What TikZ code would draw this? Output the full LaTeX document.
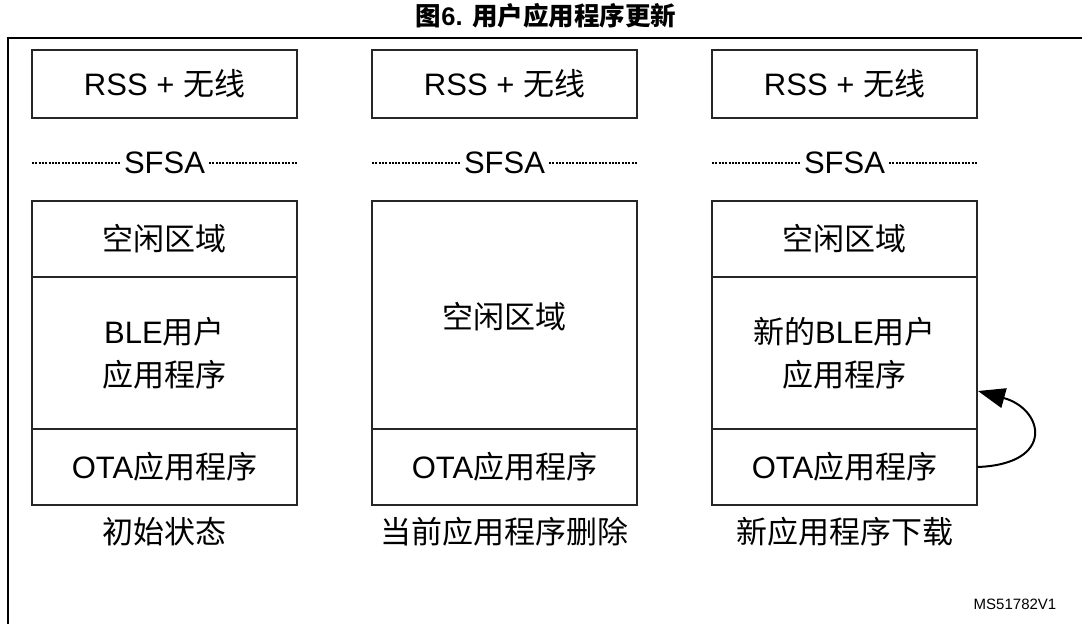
\documentclass[tikz,border=0pt]{standalone}
\usepackage{fontspec}
\setmainfont{Liberation Sans}
\newfontfamily\cjk{Noto Sans CJK SC}
\usetikzlibrary{arrows.meta}
\newcommand{\zh}[1]{{\cjk #1}}
\tikzset{
  box/.style={draw=black!85, line width=1.3pt, minimum width=265pt, inner sep=0pt, align=center, font=\fontsize{31}{43}\selectfont},
  lbl/.style={inner sep=0pt, align=center, font=\fontsize{31}{43}\selectfont},
  sfsa/.style={inner sep=4pt, font=\fontsize{31}{37}\selectfont},
  dotline/.style={line width=1.1pt, dash pattern=on 2pt off 1.3pt},
  frame/.style={line width=2.5pt},
  arr/.style={line width=2pt, -{Triangle[length=27pt,width=20pt]}},
}
\begin{document}
\begin{tikzpicture}[x=1pt,y=-1pt]
\useasboundingbox (0,0) rectangle (1082,624);
% title and frame
\node[inner sep=0pt, font=\fontsize{25.5}{30}\selectfont\bfseries] (title) at (546,16) {\zh{\bfseries 图}6. \zh{\bfseries 用户应用程序更新}};
\coordinate (fr1) at (1082,38);
\coordinate (fr2) at (8,38);
\coordinate (fr3) at (8,624);
\draw[frame] (fr1) -- (fr2) -- (fr3);
% column 1
\node[box, minimum height=68pt] (rss1) at (164.5,84) {RSS + \zh{无线}};
\coordinate (l1) at (32,163); \coordinate (r1) at (297,163);
\node[sfsa] (s1) at (164.5,163) {SFSA};
\draw[dotline] (l1) -- (s1.west); \draw[dotline] (s1.east) -- (r1);
\node[box, minimum height=76pt] (free1) at (164.5,239) {\zh{空闲区域}};
\node[box, minimum height=152pt] (app1) at (164.5,353) {BLE\zh{用户}\\\zh{应用程序}};
\node[box, minimum height=76pt] (ota1) at (164.5,467) {OTA\zh{应用程序}};
\node[lbl] (c1) at (164.5,532) {\zh{初始状态}};
% column 2
\node[box, minimum height=68pt] (rss2) at (504.5,84) {RSS + \zh{无线}};
\coordinate (l2) at (372,163); \coordinate (r2) at (637,163);
\node[sfsa] (s2) at (504.5,163) {SFSA};
\draw[dotline] (l2) -- (s2.west); \draw[dotline] (s2.east) -- (r2);
\node[box, minimum height=228pt, text height=0pt] (free2) at (504.5,315) {};
\node[lbl] (free2t) at (504.5,317) {\zh{空闲区域}};
\node[box, minimum height=76pt] (ota2) at (504.5,467) {OTA\zh{应用程序}};
\node[lbl] (c2) at (504.5,532) {\zh{当前应用程序删除}};
% column 3
\node[box, minimum height=68pt] (rss3) at (844.5,84) {RSS + \zh{无线}};
\coordinate (l3) at (712,163); \coordinate (r3) at (977,163);
\node[sfsa] (s3) at (844.5,163) {SFSA};
\draw[dotline] (l3) -- (s3.west); \draw[dotline] (s3.east) -- (r3);
\node[box, minimum height=76pt] (free3) at (844.5,239) {\zh{空闲区域}};
\node[box, minimum height=152pt] (app3) at (844.5,353) {\zh{新的}BLE\zh{用户}\\\zh{应用程序}};
\node[box, minimum height=76pt] (ota3) at (844.5,467) {OTA\zh{应用程序}};
\node[lbl] (c3) at (844.5,532) {\zh{新应用程序下载}};
% arrow
\coordinate (aend) at (978,391);
\draw[arr] (ota3.east) .. controls +(78,-3) and +(66,18) .. (aend);
% id
\node[inner sep=0pt, font=\fontsize{15}{18}\selectfont] (id) at (1015,604) {MS51782V1};
\end{tikzpicture}
\end{document}
